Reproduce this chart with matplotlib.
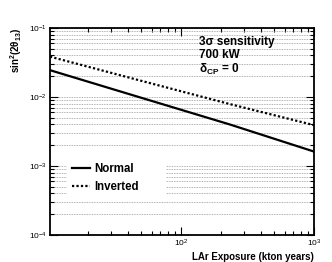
import numpy as np
import matplotlib
matplotlib.use("Agg")
import matplotlib.pyplot as plt
from matplotlib.ticker import LogLocator, FuncFormatter, NullFormatter

plt.rcParams['font.family'] = ['Liberation Sans', 'DejaVu Sans']
plt.rcParams['mathtext.fontset'] = 'custom'
plt.rcParams['mathtext.rm'] = 'Liberation Sans'
plt.rcParams['mathtext.it'] = 'Liberation Sans:italic'
plt.rcParams['mathtext.bf'] = 'Liberation Sans:bold'

# exposure (kton years) and 3 sigma sensitivity
exposure = [10.35, 49, 233, 1000]
normal = [0.0245, 0.0099, 0.0040, 0.00162]
inverted = [0.0385, 0.0174, 0.0079, 0.00391]

fig = plt.figure(figsize=(3.32, 2.62), dpi=100)
ax = fig.add_axes([0.1506, 0.103, 0.7952, 0.790])

ax.plot(exposure, normal, color='black', lw=1.6, label='Normal')
ax.plot(exposure, inverted, color='black', lw=1.6, ls=(0, (1, 1)), label='Inverted')

ax.set_xscale('log')
ax.set_yscale('log')
ax.set_xlim(10.35, 1000)
ax.set_ylim(1e-4, 1e-1)

ax.yaxis.set_major_locator(LogLocator(base=10, numticks=10))
ax.yaxis.set_minor_locator(LogLocator(base=10, subs=np.arange(2, 10), numticks=20))
ax.xaxis.set_minor_locator(LogLocator(base=10, subs=np.arange(2, 10), numticks=20))
ax.yaxis.set_minor_formatter(NullFormatter())
ax.xaxis.set_minor_formatter(NullFormatter())
fmt = FuncFormatter(lambda v, p: r'$\mathregular{10^{%d}}$' % round(np.log10(v)))
ax.xaxis.set_major_formatter(fmt)
ax.yaxis.set_major_formatter(fmt)

ax.grid(True, which='both', axis='y', color='#999999', ls=(0, (1, 1)), lw=0.6)
ax.tick_params(which='both', direction='in', top=True, right=True, labelsize=6, width=0.8)
ax.tick_params(which='major', length=6, pad=2)
ax.tick_params(which='minor', length=3)
for s in ax.spines.values():
    s.set_linewidth(1.3)

ax.set_xlabel('LAr Exposure (kton years)', fontsize=7, fontweight='bold', ha='right', x=1.0, labelpad=2)
ax.set_ylabel(r'$\mathbf{sin^{2}(2θ_{13})}$', fontsize=7, ha='right', y=1.0, labelpad=4)

ax.text(0.564, 0.918, '3σ sensitivity', transform=ax.transAxes, fontsize=8.5, fontweight='bold')
ax.text(0.564, 0.853, '700 kW', transform=ax.transAxes, fontsize=8.5, fontweight='bold')
ax.text(0.564, 0.785, r'$\mathbf{δ_{CP}}$ = 0', transform=ax.transAxes, fontsize=8.5, fontweight='bold')

leg = ax.legend(loc='lower left', bbox_to_anchor=(0.064, 0.18, 0.376, 0.23), mode='expand',
                fontsize=8.3, handlelength=1.6, handletextpad=0.4, borderaxespad=0,
                frameon=True, fancybox=False, framealpha=1, edgecolor='none', labelspacing=0.5)
for t in leg.get_texts():
    t.set_fontweight('bold')

fig.savefig('out.png', dpi=100)
